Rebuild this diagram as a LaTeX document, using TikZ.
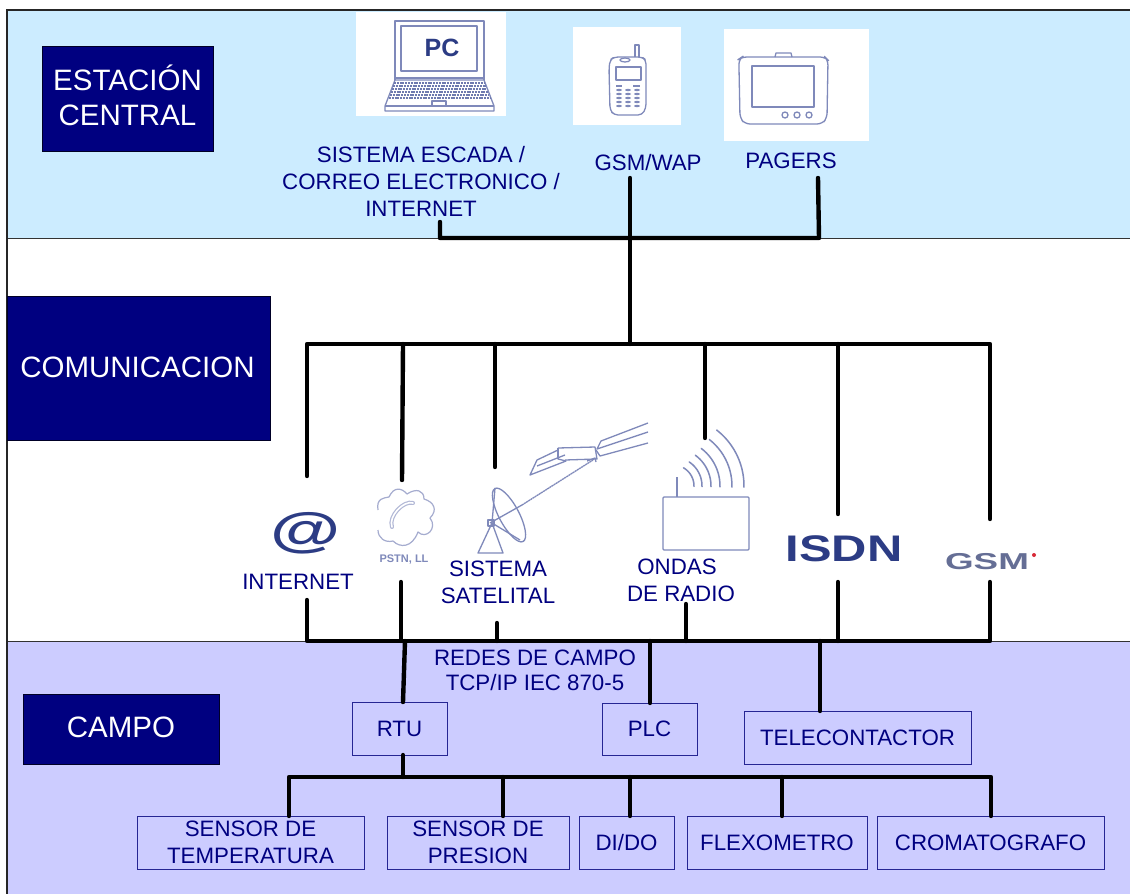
\documentclass[tikz,border=0pt]{standalone}
\usepackage{fontspec}
\setmainfont{Liberation Sans}
\definecolor{bandtop}{HTML}{CCECFF}
\definecolor{bandlow}{HTML}{CCCCFF}
\definecolor{navy}{HTML}{000080}
\definecolor{icon}{HTML}{7F89BA}
\definecolor{iconbold}{HTML}{2C3C84}
\tikzset{
 x=1pt,y=-1pt,
 bus/.style={line width=4.4pt,line cap=round,line join=round,black},
 darkbox/.style={fill=navy,draw=black!70!navy,line width=.7pt,text=white,align=center,inner sep=0pt,outer sep=0pt,font=\fontsize{29.5}{35}\selectfont},
 lab/.style={text=navy,align=center,inner sep=0pt,outer sep=0pt,font=\fontsize{22.3}{27}\selectfont},
 lab25/.style={lab,font=\fontsize{22.3}{25}\selectfont},
 fieldbox/.style={lab,draw=navy!85!white,line width=.8pt},
 ic/.style={draw=icon,line width=1.3pt,line join=round},
 whitepatch/.style={fill=white,draw=none},
}
\begin{document}
\begin{tikzpicture}
\useasboundingbox (0,0) rectangle (1130,894);
% bands
\fill[white] (0,0) rectangle (1130,894);
\fill[bandtop] (7,10) rectangle (1130,238);
\fill[bandlow] (7,641) rectangle (1130,894);
\draw[black!80,line width=.8pt] (1130,238) -- (7,238);
\draw[black!80,line width=.8pt] (1130,641) -- (7,641);
\draw[black!85,line width=1.2pt] (7,894) -- (7,10) -- (1130,10);
% white image backgrounds
\fill[whitepatch] (356,12) rectangle (506,116);
\fill[whitepatch] (573,27) rectangle (681,125);
\fill[whitepatch] (724,29) rectangle (869,141);
% title boxes
\node[darkbox,minimum width=171pt,minimum height=105pt,text depth=6.5pt] (est) at (127.5,98.5) {ESTACIÓN\\CENTRAL};
\node[darkbox,minimum width=263pt,minimum height=144pt,text depth=2.4pt] (com) at (138.5,368) {\kern-2pt COMUNICACION};
\node[darkbox,minimum width=196pt,minimum height=70pt,text depth=4.4pt] (cam) at (121,729) {CAMPO};
% laptop icon
\draw[ic] (395,80) -- (395,21) -- (484,21) -- (484,80);
\draw[ic] (401,26) rectangle (477,71);
\draw[ic] (395,78) -- (484,78);
\draw[ic] (395,80) -- (385,106) -- (385,111) -- (494,111) -- (494,106) -- (484,80) -- cycle;
\draw[ic] (385,106) -- (494,106);
\foreach \yy/\a/\b in {83/394/485,86/393/486,89/392/487,92/391/488,95/390/489,98/389/490}
  \draw[icon!80!iconbold,line width=1.5pt,dash pattern=on 2pt off .8pt] (\a,\yy) -- (\b,\yy);
\draw[ic] (432,101) rectangle (446,106);
\node[inner sep=0pt,text=iconbold,font=\fontsize{25}{25}\selectfont\bfseries] (pc) at (442,48) {PC};
% phone icon
\draw[ic,rounded corners=4pt] (609,68) -- (610,60) -- (614,57) -- (642,57) -- (646,60) -- (646,108) -- (642,115) -- (614,115) -- (610,110) -- cycle;
\draw[ic] (635,57) -- (635,45) -- (639,45) -- (639,57);
\draw[ic] (625,60) ellipse (5pt and 2pt);
\draw[ic] (616,67) rectangle (641,80);
\foreach \cx in {619,628,637} \foreach \cy in {90,94,98,102,106}
  \fill[icon] (\cx,\cy) ellipse (3pt and 1.2pt);
\fill[icon] (616,85) rectangle (622,86.5);
\fill[icon] (633,85) rectangle (640,86.5);
% pager icon
\draw[ic,rounded corners=5pt] (739,68) -- (739,59) -- (742,57) -- (825,57) -- (828,60) -- (827,118) -- (822,124) -- (745,124) -- (740,118) -- cycle;
\draw[ic] (775,57) -- (776,53) -- (791,53) -- (792,57);
\draw[ic,line width=1.7pt] (752,66) rectangle (814,107);
\foreach \cx in {785,797,809} \draw[ic] (\cx,115) circle (3pt);
% top labels
\node[lab] (sys) at (421,181.5) {SISTEMA ESCADA /\\CORREO ELECTRONICO /\\INTERNET};
\node[lab] (gsmw) at (648,163) {GSM/WAP};
\node[lab] (pag) at (791,161) {PAGERS};
% @ icon
\node[inner sep=0pt,text=iconbold,xscale=1.5,transform shape,font=\fontsize{48}{48}\selectfont\bfseries] (at) at (306,533) {@};
% PSTN icon
\draw[icon!70!white,line width=1.2pt,line join=round] (378,510) .. controls (376,498) and (384,498) .. (389,497)
  .. controls (394,486) and (402,488) .. (407,494) .. controls (416,488) and (424,490) .. (424,499)
  .. controls (434,502) and (438,510) .. (430,518) .. controls (438,528) and (426,540) .. (418,532)
  .. controls (412,548) and (400,548) .. (393,541) .. controls (385,543) and (378,538) .. (378,530);
\draw[icon!60!white,line width=4pt,line cap=round] (392,527) .. controls (388,516) and (404,500) .. (413,503);
\draw[white,line width=1.6pt,line cap=round] (392,527) .. controls (388,516) and (404,500) .. (413,503);
\node[inner sep=0pt,text=icon,font=\fontsize{11}{11}\selectfont\bfseries] (pstn) at (404,560) {PSTN, LL};
% satellite dish icon
\draw[ic,rotate around={28:(509,515)}] (509,515) ellipse (10pt and 30pt);
\draw[ic] (478,553) -- (492,523) -- (503,553) -- cycle;
\draw[ic] (490,523) -- (522,505);
\draw[ic] (495,488) -- (492,523) -- (520,540);
\draw[ic] (488,520) rectangle (494,526);
\draw[icon,line width=1.3pt,dash pattern=on 2pt off .5pt] (522,505) -- (593,460);
\draw[ic] (530,475) -- (537,460) -- (558,450) -- (558,459) -- (566,461) -- cycle;
\draw[ic] (537,466) -- (565,455);
\draw[ic] (558,448) -- (595,447) -- (597,459) -- (565,460);
\draw[ic] (558,448) -- (558,459);
\draw[ic] (648,423) -- (601,441) -- (597,449) -- (648,432);
\draw[ic] (648,443) -- (600,456) -- (596,450);
\draw[ic] (587,461) -- (595,458) -- (596,462);
% radio icon
\draw[ic,rounded corners=1pt] (663,497) rectangle (749,550);
\draw[ic,line width=1.8pt] (677,477) -- (677,497);
\foreach \r/\b in {21/60,29/56,38/54,47/53,59/52,71/52}
  \draw[icon,line width=1.5pt,line cap=round] plot[domain=-1:\b,samples=14,smooth,variable=\t] ({673+\r*cos(\t)},{486-\r*sin(\t)});
% ISDN and GSM marks
\node[inner sep=0pt,text=iconbold,xscale=1.32,transform shape,font=\fontsize{37}{37}\selectfont\bfseries] (isdn) at (844,549) {ISDN};
\node[inner sep=0pt,text=icon!80!black,xscale=1.6,transform shape,font=\fontsize{23}{23}\selectfont\bfseries] (gsmm) at (987,562) {GSM};
\fill[red!70!icon] (1034,555) circle (2pt);
% middle labels
\node[lab] (inet) at (298,582) {INTERNET};
\node[lab] (sat) at (498,582.5) {SISTEMA\\SATELITAL};
\node[lab] (rad) at (681,580.5) {ONDAS\kern8pt\\DE RADIO};
\node[lab25] (red) at (535,670) {REDES DE CAMPO\\TCP/IP IEC 870-5};
% field boxes
\node[fieldbox,minimum width=95pt,minimum height=53pt] (rtu) at (399.5,728.5) {RTU};
\node[fieldbox,minimum width=95pt,minimum height=52pt] (plc) at (649.5,729) {PLC};
\node[fieldbox,minimum width=227pt,minimum height=53pt] (tel) at (857.5,737.5) {TELECONTACTOR};
\node[fieldbox,minimum width=227pt,minimum height=53pt] (stp) at (250.5,842.5) {SENSOR DE\\TEMPERATURA};
\node[fieldbox,minimum width=182pt,minimum height=53pt] (spr) at (478,842.5) {SENSOR DE\\PRESION};
\node[fieldbox,minimum width=95pt,minimum height=53pt] (dio) at (626.5,842.5) {DI/DO};
\node[fieldbox,minimum width=180pt,minimum height=53pt] (flx) at (777,842.5) {FLEXOMETRO};
\node[fieldbox,minimum width=227pt,minimum height=53pt] (cro) at (990.5,842.5) {CROMATOGRAFO};
% junctions
\coordinate (t1) at (440,238); \coordinate (t1e) at (440,222);
\coordinate (t2) at (630,238); \coordinate (t2e) at (630,178);
\coordinate (t3) at (819,238); \coordinate (t3e) at (818,178);
\coordinate (m0) at (630,344);
\coordinate (ma) at (307,344); \coordinate (mae) at (307,476);
\coordinate (mb) at (403,344); \coordinate (mbe) at (402,480);
\coordinate (mc) at (495,344); \coordinate (mce) at (495,467);
\coordinate (md) at (705,344); \coordinate (mde) at (705,438);
\coordinate (me) at (838,344); \coordinate (mee) at (838,514);
\coordinate (mf) at (990,344); \coordinate (mfe) at (990,519);
\coordinate (la) at (307,641); \coordinate (lae) at (307,600);
\coordinate (lb) at (401,641); \coordinate (lbe) at (401,582);
\coordinate (lc) at (497,641); \coordinate (lce) at (497,623);
\coordinate (ld) at (686,641); \coordinate (lde) at (686,604);
\coordinate (le) at (838,641); \coordinate (lee) at (838,582);
\coordinate (lf) at (990,641); \coordinate (lfe) at (990,582);
\coordinate (f1) at (405,641); \coordinate (f2) at (650,641); \coordinate (f3) at (820,641);
\coordinate (s0) at (403,777);
\coordinate (sa) at (289,777); \coordinate (sb) at (503,777); \coordinate (sc) at (630,777);
\coordinate (sd) at (782,777); \coordinate (se) at (991,777);
% connectors
\draw[bus] (t1e) -- (t1) -- (t3) -- (t3e);
\draw[bus] (t2e) -- (t2) -- (m0);
\draw[bus] (mae) -- (ma) -- (mf) -- (mfe);
\foreach \a/\b in {mb/mbe,mc/mce,md/mde,me/mee} \draw[bus] (\a) -- (\b);
\draw[bus] (lae) -- (la) -- (lf) -- (lfe);
\foreach \a/\b in {lb/lbe,lc/lce,ld/lde,le/lee} \draw[bus] (\a) -- (\b);
\draw[bus] (f1) -- ([xshift=3.5pt]rtu.north);
\draw[bus] (f2) -- (plc.north -| f2);
\draw[bus] (f3) -- (tel.north -| f3);
\draw[bus] (rtu.south -| s0) -- (s0);
\draw[bus] (stp.north -| sa) -- (sa) -- (se) -- (cro.north -| se);
\draw[bus] (sb) -- (spr.north -| sb);
\draw[bus] (sc) -- (dio.north -| sc);
\draw[bus] (sd) -- (flx.north -| sd);
\end{tikzpicture}
\end{document}
